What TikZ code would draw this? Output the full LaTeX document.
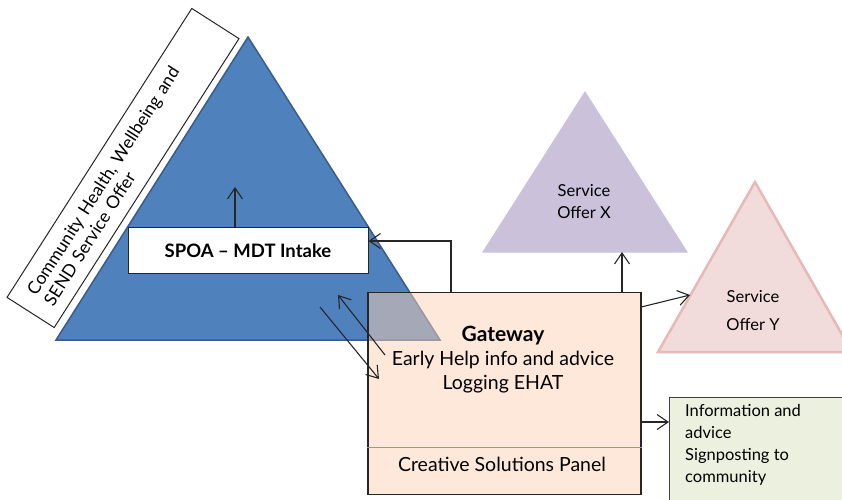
\documentclass[tikz,border=0pt]{standalone}
\usepackage{fontspec}
\setmainfont{Lato}
\usetikzlibrary{arrows.meta,positioning}
\definecolor{spoablue}{HTML}{4F81BD}
\definecolor{spoaedge}{HTML}{385D8A}
\definecolor{offerx}{HTML}{CCC1DA}
\definecolor{offery}{HTML}{F2DCDB}
\definecolor{offeryedge}{HTML}{E6B9B8}
\definecolor{gatefill}{HTML}{FBD1B3}
\definecolor{infofill}{HTML}{EBF1DE}
\definecolor{panelline}{HTML}{7B9CCB}
\tikzset{
  arr/.style={draw=black!85, line width=1.1pt, -{Straight Barb[length=11pt,width=15pt,line width=1.1pt]}},
  whitebox/.style={draw=black!85, fill=white, line width=1pt, inner sep=0pt},
  gatebox/.style={draw=black!85, fill=gatefill, fill opacity=0.5, line width=1.2pt,
    minimum width=273pt, minimum height=202pt, inner sep=0pt},
  txt/.style={align=center, inner sep=0pt}
}
\begin{document}
\begin{tikzpicture}[x=1pt, y=-1pt]
  \useasboundingbox (0,0) rectangle (842,499);
  \clip (0,0) rectangle (842,499);

  \node[whitebox, rotate=57.4, minimum width=343pt, minimum height=56pt,
        text width=310pt, align=left, font=\fontsize{17.5}{20}\selectfont] (offer) at (123,168)
        {Community Health, Wellbeing and\\SEND Service Offer};

  \draw[fill=spoablue, draw=spoaedge, line width=1.5pt] (56,340) -- (248,37) -- (440,340) -- cycle;
  \node[whitebox, minimum width=240pt, minimum height=46pt,
        font=\fontsize{18.5}{20}\selectfont\bfseries] (spoa) at (248,250.5) {SPOA -- MDT Intake};

  \draw[fill=offerx, draw=offerx, line width=1pt] (483,252) -- (585,92) -- (687,252) -- cycle;
  \node[txt, font=\fontsize{16.5}{22}\selectfont] (offerxtext) at (584,202) {Service\\Offer X};

  \draw[fill=offery, draw=offeryedge, line width=2.5pt] (658,352) -- (755,182) -- (852,352) -- cycle;
  \node[txt, font=\fontsize{16.5}{28}\selectfont] (offerytext) at (753,311) {Service\\Offer Y};

  \node[gatebox] (gate) at (504.5,393.5) {};
  \draw[panelline, line width=1.4pt] (gate.west |- 0,447.5) -- (gate.east |- 0,447.5);
  \node[txt, font=\fontsize{19.5}{24}\selectfont] (gatetext) at (503,360)
        {{\fontsize{21}{24}\selectfont\textbf{Gateway}}\\Early Help info and advice\\Logging EHAT};
  \node[txt, font=\fontsize{19.5}{20}\selectfont] (panel) at (502,464) {Creative Solutions Panel};

  \draw[fill=infofill, draw=black!75, line width=1pt] (669,397) rectangle (850,510);
  \node[anchor=north west, align=left, inner sep=0pt, font=\fontsize{16.5}{22}\selectfont] (info)
        at (685,404) {Information and\\advice\\Signposting to\\community};

  \coordinate (spoaup) at (235,187);
  \coordinate (xbase) at (622,252);
  \coordinate (ytip) at (690,295);
  \coordinate (infoin) at (669,422);
  \coordinate (downfrom) at (320,307);
  \coordinate (downto) at (379,379);
  \coordinate (upfrom) at (385,355);
  \coordinate (upto) at (338,295);

  \draw[arr] (spoa.north -| spoaup) -- (spoaup);
  \draw[arr] (gate.north -| 451,0) |- ([yshift=9.5pt]spoa.east);
  \draw[arr] (gate.north -| xbase) -- (xbase);
  \draw[arr] ([yshift=-15pt]gate.north east) -- (ytip);
  \draw[arr] (gate.east |- infoin) -- (infoin);
  \draw[arr] (downfrom) -- (downto);
  \draw[arr] (upfrom) -- (upto);
\end{tikzpicture}
\end{document}
